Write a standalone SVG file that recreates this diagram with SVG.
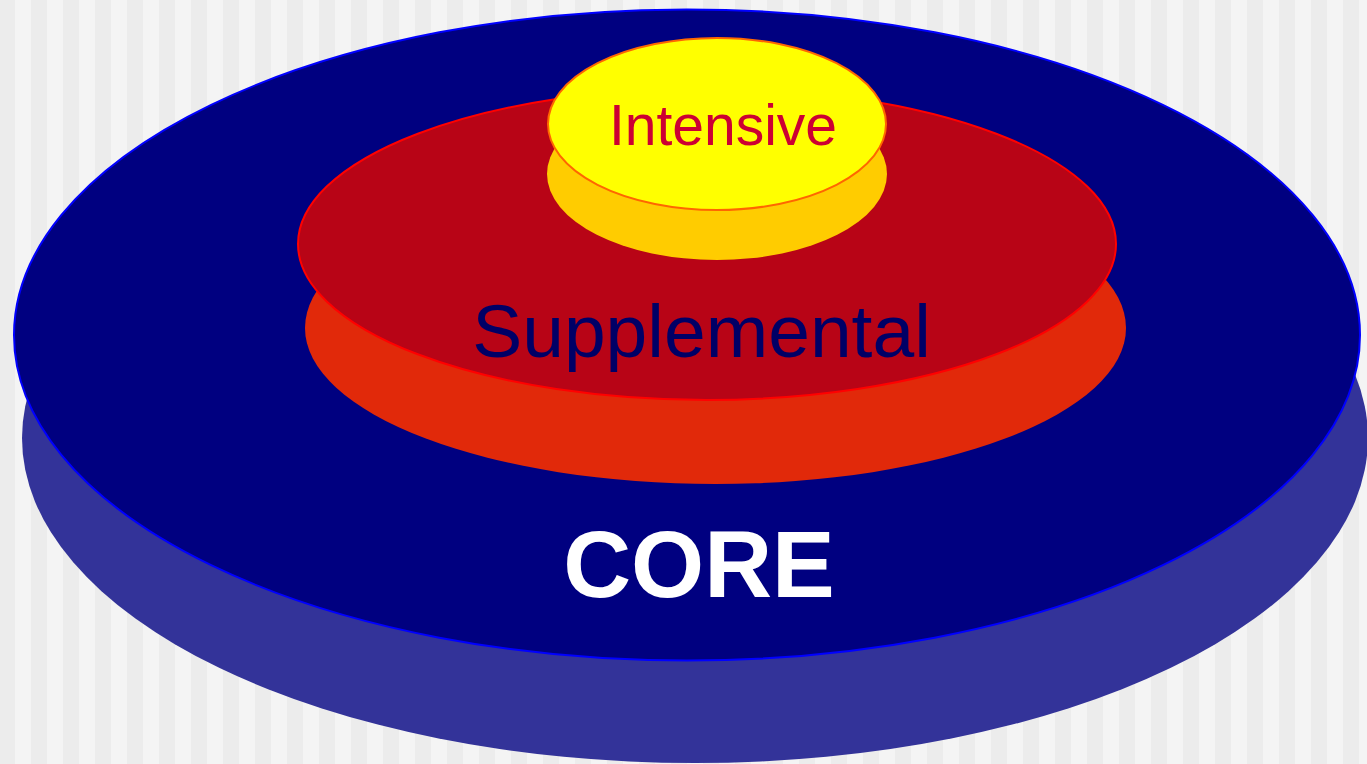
<svg xmlns="http://www.w3.org/2000/svg" width="1367" height="764" viewBox="0 0 1367 764">
  <defs>
    <pattern id="stripes" x="15" y="0" width="32" height="764" patternUnits="userSpaceOnUse">
      <rect x="0" y="0" width="16" height="764" fill="#f4f4f4"/>
      <rect x="16" y="0" width="16" height="764" fill="#ececec"/>
    </pattern>
  </defs>
  <style>
    .lbl { font-family: "Liberation Sans", Arial, sans-serif; text-anchor: middle; }
  </style>
  <rect x="0" y="0" width="1367" height="764" fill="url(#stripes)"/>
  <g id="core">
    <ellipse cx="695" cy="438" rx="673" ry="325" fill="#333399"/>
    <ellipse cx="687" cy="335" rx="673" ry="325.5" fill="#000080" stroke="#0000ff" stroke-width="2"/>
    <text class="lbl" x="699" y="597" font-size="94" font-weight="bold" fill="#ffffff">CORE</text>
  </g>
  <g id="supplemental">
    <ellipse cx="715.5" cy="328" rx="410.5" ry="156" fill="#e1290a"/>
    <ellipse cx="707" cy="244" rx="409" ry="156" fill="#b80416" stroke="#ff0000" stroke-width="2"/>
    <text class="lbl" x="701.5" y="357" font-size="75" fill="#000066">Supplemental</text>
  </g>
  <g id="intensive">
    <ellipse cx="717" cy="174" rx="170" ry="86" fill="#ffcc00"/>
    <ellipse cx="717" cy="124" rx="169" ry="86" fill="#ffff00" stroke="#ff6600" stroke-width="2"/>
    <text class="lbl" x="723" y="145" font-size="57" fill="#cc0033">Intensive</text>
  </g>
  <g id="connectors"/>
</svg>
